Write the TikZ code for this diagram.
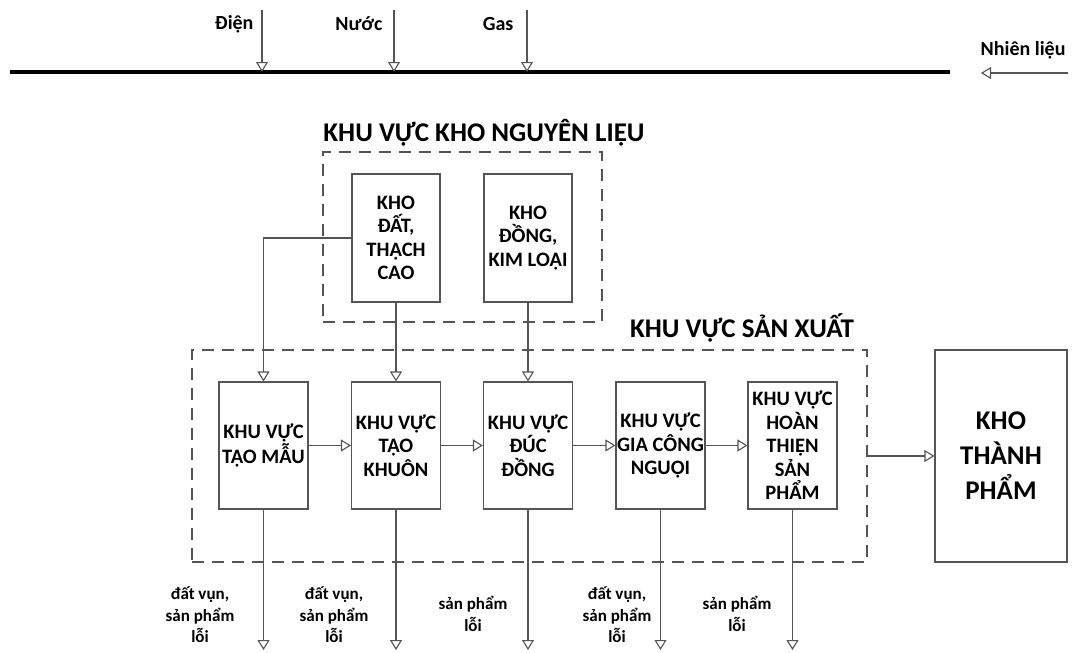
\documentclass[tikz,border=0pt]{standalone}
\usepackage{fontspec}
\setmainfont{Carlito}
\usetikzlibrary{arrows.meta}
\definecolor{lngray}{RGB}{85,85,85}

\begin{document}
\begin{tikzpicture}[x=1pt,y=-1pt,
  box/.style={draw=lngray,line width=1.1pt,minimum width=89pt,minimum height=127pt,inner sep=1pt,align=center,font=\bfseries\fontsize{20.5}{23.5}\selectfont},
  zone/.style={draw=lngray,line width=1.1pt,dash pattern=on 12pt off 8pt},
  arr/.style={draw=lngray,line width=1.1pt,-{Triangle[open,length=10pt,width=12pt]}},
  lbl/.style={align=center,font=\bfseries\fontsize{17}{21.5}\selectfont},
  toplbl/.style={anchor=east,font=\bfseries\fontsize{20}{24}\selectfont},
  title/.style={font=\bfseries\fontsize{27}{31}\selectfont}]
\useasboundingbox (0,0) rectangle (1072,653);

\coordinate (busL) at (10,72);
\coordinate (busR) at (950,72);
\draw[line width=3.5pt] (busL) -- (busR);

\coordinate (dien) at (262,10);
\coordinate (nuoc) at (394,10);
\coordinate (gas) at (527,10);
\draw[arr] (dien) -- (dien |- busL);
\draw[arr] (nuoc) -- (nuoc |- busL);
\draw[arr] (gas) -- (gas |- busL);
\node[toplbl] (tdien) at (257,24) {Điện};
\node[toplbl] (tnuoc) at (386,24) {Nước};
\node[toplbl] (tgas) at (517,24) {Gas};

\coordinate (nlA) at (1068,73);
\coordinate (nlB) at (981,73);
\draw[arr] (nlA) -- (nlB);
\node[toplbl] (tnl) at (1069,50) {Nhiên liệu};

\node[zone,minimum width=279pt,minimum height=170pt] (khonl) at (462.5,237) {};
\node[title] (tkhonl) at (484,133) {KHU VỰC KHO NGUYÊN LIỆU};
\node[box,minimum width=88pt,minimum height=128pt] (khodat) at (396,238) {KHO\\ĐẤT,\\THẠCH\\CAO};
\node[box,minimum width=88pt,minimum height=128pt] (khodong) at (528,238) {KHO\\ĐỒNG,\\KIM LOẠI};

\node[zone,minimum width=675pt,minimum height=212pt] (sanxuat) at (529.5,456) {};
\node[title] (tsanxuat) at (742,328) {KHU VỰC SẢN XUẤT};
\node[box] (taomau) at (263.5,445.5) {KHU VỰC\\TẠO MẪU};
\node[box] (taokhuon) at (396,445.5) {KHU VỰC\\TẠO\\KHUÔN};
\node[box] (ducdong) at (528,445.5) {KHU VỰC\\ĐÚC\\ĐỒNG};
\node[box] (giacong) at (660.5,445.5) {KHU VỰC\\GIA CÔNG\\NGUỘI};
\node[box] (hoanthien) at (792.5,445.5) {KHU VỰC\\HOÀN\\THIỆN\\SẢN\\PHẨM};

\node[box,minimum width=132pt,minimum height=212pt,font=\bfseries\fontsize{27}{35}\selectfont] (khotp) at (1001,456) {KHO\\THÀNH\\PHẨM};

\draw[arr] (khodat.west) -| (taomau.north);
\draw[arr] (khodat.south) -- (taokhuon.north);
\draw[arr] (khodong.south) -- (ducdong.north);
\draw[arr] (taomau) -- (taokhuon);
\draw[arr] (taokhuon) -- (ducdong);
\draw[arr] (ducdong) -- (giacong);
\draw[arr] (giacong) -- (hoanthien);
\draw[arr] (sanxuat.east) -- (khotp.west);

\coordinate (bot) at (0,650);
\draw[arr] (taomau.south) -- (taomau.south |- bot);
\draw[arr] (taokhuon.south) -- (taokhuon.south |- bot);
\draw[arr] (ducdong.south) -- (ducdong.south |- bot);
\draw[arr] (giacong.south) -- (giacong.south |- bot);
\draw[arr] (hoanthien.south) -- (hoanthien.south |- bot);

\node[lbl] (l1) at (200,615) {đất vụn,\\sản phẩm\\lỗi};
\node[lbl] (l2) at (334,615) {đất vụn,\\sản phẩm\\lỗi};
\node[lbl] (l3) at (473,614) {sản phẩm\\lỗi};
\node[lbl] (l4) at (617,615) {đất vụn,\\sản phẩm\\lỗi};
\node[lbl] (l5) at (737,614) {sản phẩm\\lỗi};
\end{tikzpicture}
\end{document}
